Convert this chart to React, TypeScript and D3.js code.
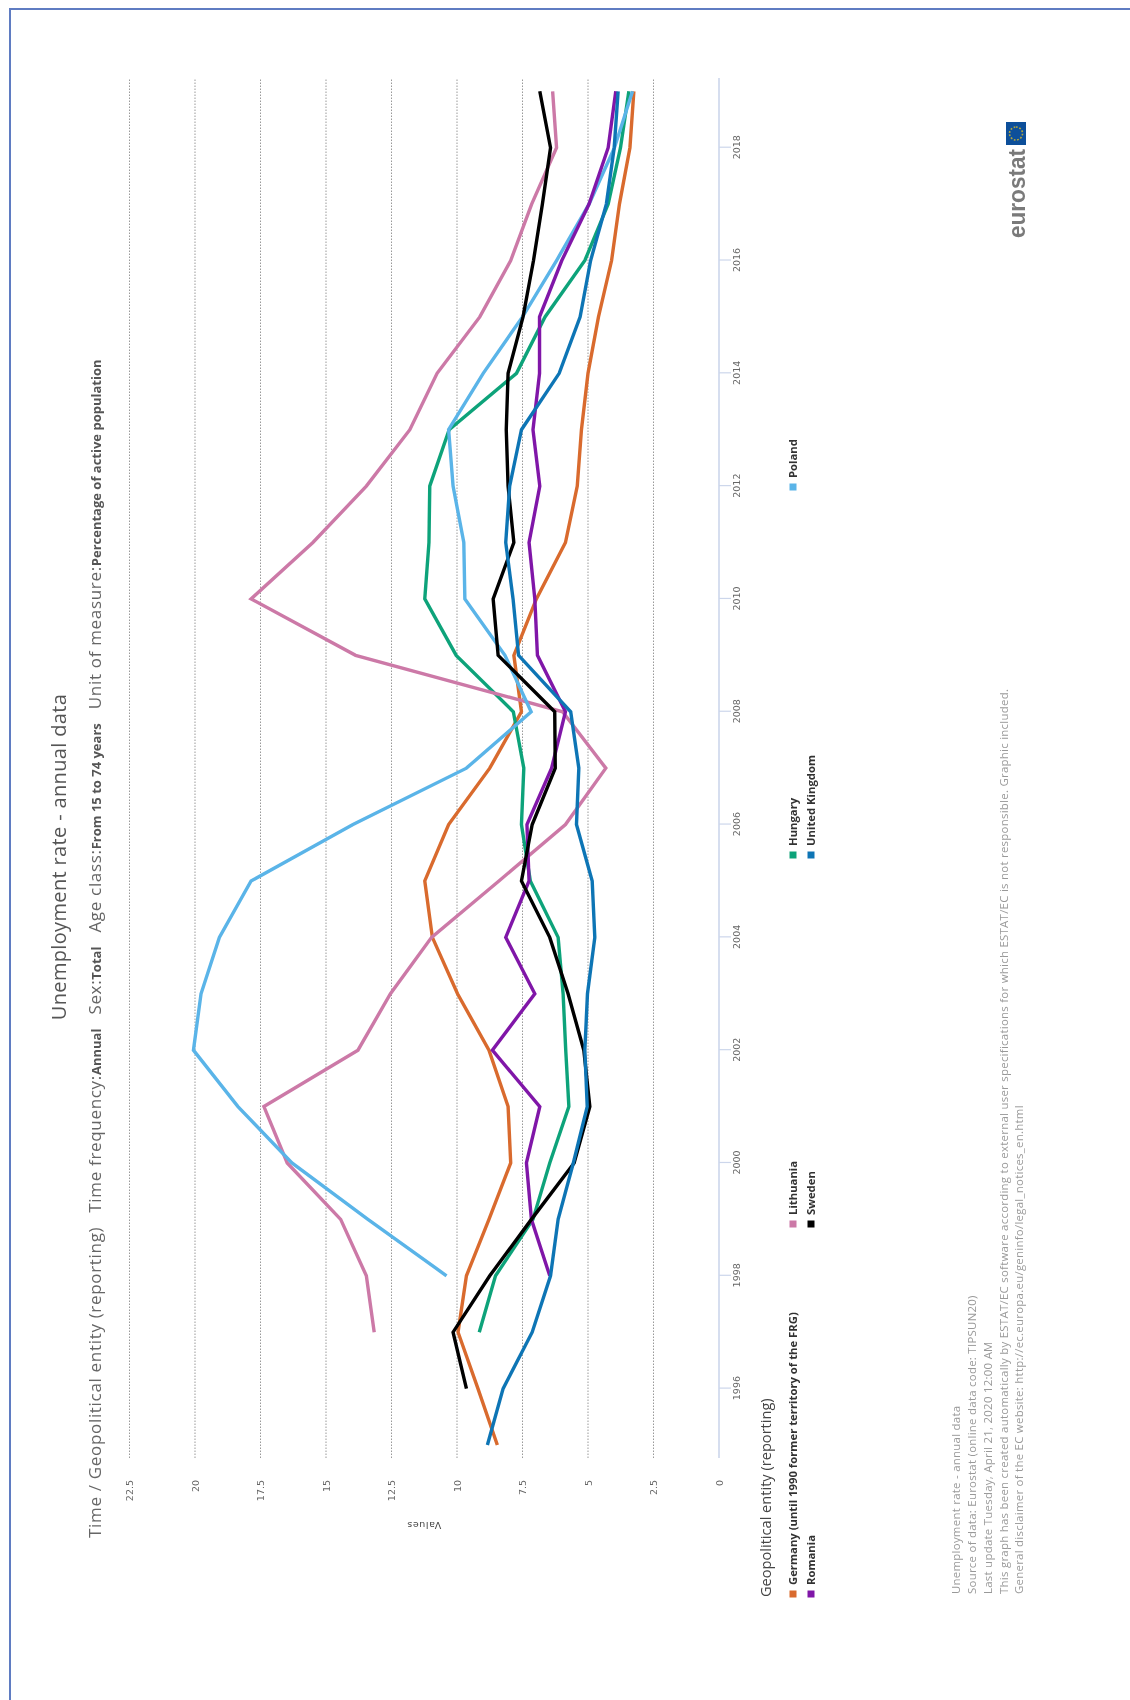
import React, { useEffect, useRef } from 'react';
import * as d3 from 'd3';

const years = d3.range(1995, 2020);
const valueTicks = [0, 2.5, 5, 7.5, 10, 12.5, 15, 17.5, 20, 22.5];
const yearTicks = [1996, 1998, 2000, 2002, 2004, 2006, 2008, 2010, 2012, 2014, 2016, 2018];

const germany = [8.46, 9.2, 9.96, 9.64, 8.78, 7.95, 8.05, 8.78, 9.98, 10.94, 11.23, 10.32, 8.75, 7.54, 7.83, 6.97, 5.86, 5.41, 5.25, 5.0, 4.6, 4.1, 3.8, 3.4, 3.25];
const hungary = [null, null, 9.15, 8.53, 7.1, 6.46, 5.73, 5.85, 5.95, 6.14, 7.2, 7.54, 7.45, 7.85, 10.03, 11.23, 11.07, 11.04, 10.3, 7.73, 6.64, 5.12, 4.23, 3.76, 3.44];
const lithuania = [null, null, 13.16, 13.46, 14.44, 16.48, 17.37, 13.78, 12.54, 10.97, 8.4, 5.86, 4.32, 5.97, 13.87, 17.86, 15.5, 13.46, 11.8, 10.76, 9.13, 7.95, 7.15, 6.2, 6.35];
const poland = [null, null, null, 10.4, 13.4, 16.3, 18.36, 20.06, 19.77, 19.07, 17.86, 13.97, 9.64, 7.17, 8.17, 9.7, 9.74, 10.15, 10.32, 9.0, 7.5, 6.2, 4.96, 3.99, 3.3];
const romania = [null, null, null, 6.46, 7.16, 7.35, 6.84, 8.65, 7.03, 8.14, 7.25, 7.33, 6.39, 5.86, 6.93, 7.03, 7.25, 6.84, 7.1, 6.85, 6.85, 6.0, 4.96, 4.23, 3.94];
const sweden = [null, 9.64, 10.15, 8.75, 7.16, 5.53, 4.93, 5.16, 5.76, 6.46, 7.54, 7.13, 6.25, 6.27, 8.43, 8.62, 7.83, 8.05, 8.12, 8.05, 7.48, 7.08, 6.74, 6.43, 6.84];
const uk = [8.84, 8.24, 7.13, 6.43, 6.14, 5.56, 5.03, 5.12, 5.02, 4.74, 4.84, 5.44, 5.35, 5.66, 7.65, 7.86, 8.14, 7.99, 7.54, 6.1, 5.3, 4.9, 4.3, 4.0, 3.85];

const seriesList = [
  { name: 'Germany (until 1990 former territory of the FRG)', values: germany, color: '#d96b2d' },
  { name: 'Hungary', values: hungary, color: '#0fa37a' },
  { name: 'Lithuania', values: lithuania, color: '#cc79a7' },
  { name: 'Poland', values: poland, color: '#5ab4e8' },
  { name: 'Romania', values: romania, color: '#8019a8' },
  { name: 'Sweden', values: sweden, color: '#000000' },
  { name: 'United Kingdom', values: uk, color: '#0f75b5' },
];

// [label, bold value] pairs of the subtitle
const subtitleParts = [
  ['Time / Geopolitical entity (reporting)', ''],
  ['Time frequency:', 'Annual'],
  ['Sex:', 'Total'],
  ['Age class:', 'From 15 to 74 years'],
  ['Unit of measure:', 'Percentage of active population'],
];

const footerLines = [
  'Unemployment rate - annual data',
  'Source of data: Eurostat (online data code: TIPSUN20)',
  'Last update Tuesday, April 21, 2020 12:00 AM',
  'This graph has been created automatically by ESTAT/EC software according to external user specifications for which ESTAT/EC is not responsible. Graphic included.',
  'General disclaimer of the EC website: http://ec.europa.eu/geninfo/legal_notices_en.html',
];

const font = '"Open Sans", sans-serif';
const tickFont = '"DejaVu Sans", sans-serif';
const H = 1700;

function Chart() {
  const ref = useRef<SVGSVGElement>(null);

  useEffect(() => {
    const svg = d3.select(ref.current);
    svg.selectAll('*').remove();

    const defs = svg.append('defs');
    defs.append('filter').attr('id', 'soft')
      .attr('filterUnits', 'userSpaceOnUse')
      .attr('x', 0).attr('y', 0).attr('width', 1130).attr('height', 1700)
      .append('feGaussianBlur').attr('stdDeviation', 0.6);

    const page = svg.append('g').attr('filter', 'url(#soft)');

    // window border, top and left only
    page.append('path').attr('d', 'M10,1700V9H1130')
      .attr('fill', 'none').attr('stroke', '#5f7cc2').attr('stroke-width', 2);

    // the whole chart is drawn lying on its side
    const root = page.append('g').attr('transform', `translate(0,${H}) rotate(-90)`);

    const xScale = d3.scaleLinear().domain([1995, 2019]).range([H - 1445, H - 91.3]);
    const yScale = d3.scaleLinear().domain([0, 22.5]).range([719, 129.5]);
    const plotLeft = H - 1458;
    const plotRight = H - 78;

    // grid
    root.append('g').selectAll('line')
      .data(valueTicks.filter((d) => d > 0))
      .enter().append('line')
      .attr('x1', plotLeft).attr('x2', plotRight)
      .attr('y1', (d) => yScale(d)).attr('y2', (d) => yScale(d))
      .attr('stroke', '#999').attr('stroke-width', 1).attr('stroke-dasharray', '1.5,1.5');

    // year axis
    const xAxis = d3.axisBottom(xScale)
      .tickValues(yearTicks)
      .tickFormat((d) => String(d))
      .tickSize(12)
      .tickSizeOuter(0);
    const xG = root.append('g').attr('transform', `translate(0,${yScale(0)})`).call(xAxis);
    xG.select('.domain').remove();
    xG.append('line').attr('x1', plotLeft).attr('x2', plotRight)
      .attr('stroke', '#ccd6eb').attr('stroke-width', 1.6);
    xG.selectAll('.tick line').attr('stroke', '#ccd6eb').attr('stroke-width', 1.2);
    xG.selectAll('text')
      .attr('y', 18).attr('dy', '0.35em')
      .style('font-family', tickFont).style('font-size', '9.5px').style('fill', '#666');

    // value axis
    const yAxis = d3.axisLeft(yScale)
      .tickValues(valueTicks)
      .tickFormat((d) => String(d))
      .tickSize(0);
    const yG = root.append('g').attr('transform', `translate(${H - 1480},0)`).call(yAxis);
    yG.select('.domain').remove();
    yG.selectAll('text')
      .attr('x', 0)
      .style('font-family', tickFont).style('font-size', '9.5px').style('fill', '#666');

    // Values label is upside down in the original
    root.append('text')
      .attr('transform', `translate(${H - 1525},424) rotate(-90)`)
      .attr('text-anchor', 'middle').attr('dy', '0.35em')
      .style('font-family', tickFont).style('font-size', '9.5px').style('fill', '#444')
      .style('letter-spacing', '0.6px')
      .text('Values');

    // lines
    const line = d3.line<number | null>()
      .defined((d) => d !== null)
      .x((d, i) => xScale(years[i]))
      .y((d) => yScale(d as number));

    root.append('g').selectAll('path')
      .data(seriesList)
      .enter().append('path')
      .attr('d', (d) => line(d.values))
      .attr('fill', 'none')
      .attr('stroke', (d) => d.color)
      .attr('stroke-width', 3.4)
      .attr('stroke-linejoin', 'miter');

    // title
    root.append('text')
      .attr('x', H - 857).attr('y', 66)
      .attr('text-anchor', 'middle')
      .style('font-family', font).style('font-size', '20px').style('fill', '#555')
      .style('letter-spacing', '0.35px')
      .text('Unemployment rate - annual data');

    // subtitle
    const sub = root.append('text')
      .attr('x', H - 1538).attr('y', 101)
      .style('font-family', font).style('fill', '#666');
    subtitleParts.forEach(([label, value], i) => {
      sub.append('tspan')
        .attr('dx', i === 0 ? 0 : 14)
        .style('font-size', '17px').style('letter-spacing', '0.68px')
        .text(label);
      if (value) {
        sub.append('tspan')
          .style('font-size', '13px').style('font-weight', 'bold').style('fill', '#555')
          .style('letter-spacing', '0')
          .text(value);
      }
    });

    // legend
    const legend = root.append('g');
    legend.append('text')
      .attr('x', H - 1597).attr('y', 771)
      .style('font-family', font).style('font-size', '14.6px').style('fill', '#444')
      .text('Geopolitical entity (reporting)');

    const legendRows = [793, 811];
    const legendCols = [H - 1594, H - 1224, H - 855, H - 487];
    const legendSlots = [[0, 0], [1, 0], [2, 0], [3, 0], [0, 1], [1, 1], [2, 1]];
    const legendOrder = [
      seriesList[0], seriesList[2], seriesList[1], seriesList[3],
      seriesList[4], seriesList[5], seriesList[6],
    ];
    legendOrder.forEach((s, i) => {
      const [col, row] = legendSlots[i];
      legend.append('rect')
        .attr('x', legendCols[col] - 3.5).attr('y', legendRows[row] - 3.5)
        .attr('width', 7).attr('height', 7)
        .attr('fill', s.color);
      legend.append('text')
        .attr('x', legendCols[col] + 9).attr('y', legendRows[row] + 4)
        .style('font-family', font).style('font-size', '11.3px').style('font-weight', 'bold').style('fill', '#333')
        .text(s.name);
    });

    // footer notes
    root.append('g').selectAll('text')
      .data(footerLines)
      .enter().append('text')
      .attr('x', H - 1594)
      .attr('y', (d, i) => [960, 976, 992, 1008, 1023][i])
      .style('font-family', font).style('font-size', '11.4px').style('fill', '#999')
      .style('letter-spacing', '0.28px')
      .text((d) => d);

    // eurostat logo
    const logo = root.append('g');
    logo.append('text')
      .attr('x', H - 238).attr('y', 1025)
      .attr('textLength', 89).attr('lengthAdjust', 'spacingAndGlyphs')
      .style('font-family', '"Liberation Sans", sans-serif').style('font-size', '24.6px')
      .style('font-weight', 'bold').style('fill', '#7a7a7a')
      .text('eurostat');
    logo.append('rect')
      .attr('x', H - 145).attr('y', 1006).attr('width', 23).attr('height', 20)
      .attr('fill', '#10509a');
    logo.append('circle')
      .attr('cx', H - 133.5).attr('cy', 1016).attr('r', 6.5)
      .attr('fill', 'none').attr('stroke', '#b5a83a').attr('stroke-width', 1.6)
      .attr('stroke-dasharray', '1.7,1.7');
  }, []);

  return <svg ref={ref} width={1130} height={1700} style={{ position: 'absolute', left: 0, top: 0, background: '#fff' }} />;
}

export default function App() {
  return <Chart />;
}
